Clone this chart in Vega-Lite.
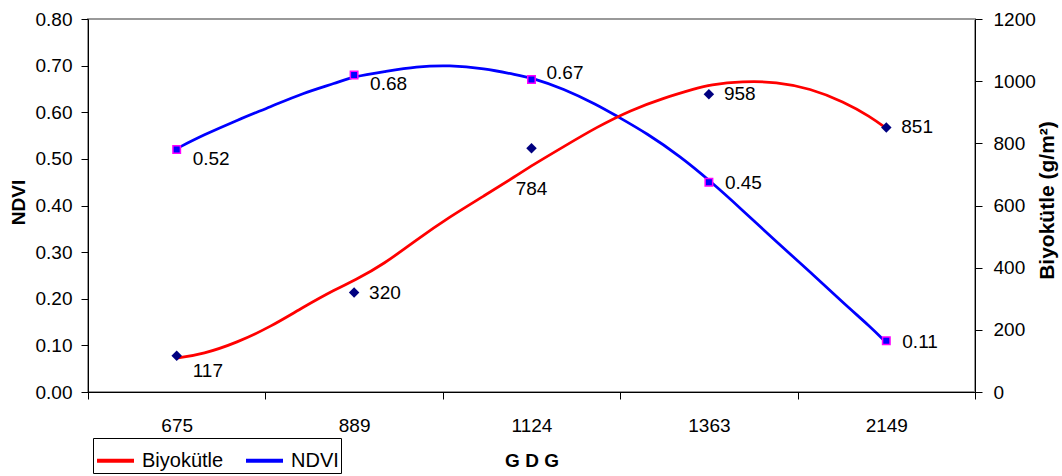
{
  "$schema": "https://vega.github.io/schema/vega-lite/v6.json",
  "width": 887,
  "height": 373,
  "autosize": {"type": "none"},
  "padding": {"left": 88, "top": 19, "right": 87, "bottom": 84},
  "background": "white",
  "config": {
    "font": "Liberation Sans",
    "view": {"stroke": "#999999", "strokeWidth": 2},
    "axis": {
      "domainColor": "#000000", "domainWidth": 1, "tickColor": "#000000", "tickSize": 7,
      "labelColor": "#000000", "titleColor": "#000000", "grid": false,
      "labelFont": "Liberation Sans", "titleFont": "Liberation Sans",
      "labelFontSize": 19, "titleFontSize": 19, "titleFontWeight": "bold"
    },
    "text": {"font": "Liberation Sans", "fontSize": 19, "color": "#000000"}
  },
  "datasets": {
    "ndviCurve": [
      {"i": 1.00, "v": 0.522}, {"i": 1.15, "v": 0.551}, {"i": 1.34, "v": 0.583}, {"i": 1.53, "v": 0.612},
      {"i": 1.71, "v": 0.641}, {"i": 1.90, "v": 0.663}, {"i": 2.00, "v": 0.677}, {"i": 2.17, "v": 0.687},
      {"i": 2.35, "v": 0.698}, {"i": 2.54, "v": 0.701}, {"i": 2.73, "v": 0.694}, {"i": 2.92, "v": 0.680},
      {"i": 3.00, "v": 0.674}, {"i": 3.18, "v": 0.651}, {"i": 3.37, "v": 0.616}, {"i": 3.48, "v": 0.592},
      {"i": 3.65, "v": 0.555}, {"i": 3.84, "v": 0.505}, {"i": 4.00, "v": 0.455}, {"i": 4.19, "v": 0.390},
      {"i": 4.38, "v": 0.322}, {"i": 4.57, "v": 0.258}, {"i": 4.76, "v": 0.190}, {"i": 4.91, "v": 0.140},
      {"i": 5.00, "v": 0.106}
    ],
    "bioCurve": [
      {"i": 1.00, "v": 109}, {"i": 1.15, "v": 122}, {"i": 1.34, "v": 159}, {"i": 1.53, "v": 210},
      {"i": 1.71, "v": 272}, {"i": 1.90, "v": 332}, {"i": 2.00, "v": 358}, {"i": 2.17, "v": 412},
      {"i": 2.35, "v": 489}, {"i": 2.54, "v": 564}, {"i": 2.73, "v": 630}, {"i": 2.92, "v": 698},
      {"i": 3.00, "v": 728}, {"i": 3.18, "v": 789}, {"i": 3.37, "v": 853}, {"i": 3.56, "v": 907},
      {"i": 3.74, "v": 945}, {"i": 3.93, "v": 977}, {"i": 4.00, "v": 988}, {"i": 4.19, "v": 1000},
      {"i": 4.38, "v": 998}, {"i": 4.57, "v": 977}, {"i": 4.76, "v": 934}, {"i": 4.91, "v": 886},
      {"i": 5.00, "v": 848}
    ],
    "ndviPts": [
      {"gdg": "675", "i": 1, "v": 0.52}, {"gdg": "889", "i": 2, "v": 0.68}, {"gdg": "1124", "i": 3, "v": 0.67},
      {"gdg": "1363", "i": 4, "v": 0.45}, {"gdg": "2149", "i": 5, "v": 0.11}
    ],
    "bioPts": [
      {"gdg": "675", "i": 1, "v": 117}, {"gdg": "889", "i": 2, "v": 320}, {"gdg": "1124", "i": 3, "v": 784},
      {"gdg": "1363", "i": 4, "v": 958}, {"gdg": "2149", "i": 5, "v": 851}
    ]
  },
  "encoding": {
    "x": {
      "field": "i", "type": "quantitative",
      "scale": {"domain": [0.5, 5.5], "nice": false, "zero": false},
      "axis": {
        "values": [0.5, 1.5, 2.5, 3.5, 4.5, 5.5],
        "labelExpr": "datum.value < 5 ? ['675','889','1124','1363','2149'][floor(datum.value)] : ''",
        "labelOffset": 88.7, "labelOverlap": false, "labelBound": false, "labelFlush": false,
        "labelPadding": 17,
        "title": "G D G", "titleX": 443.5, "titleY": 68, "titleBaseline": "middle", "titleAlign": "center"
      }
    }
  },
  "layer": [
    {
      "encoding": {
        "y": {
          "field": "v", "type": "quantitative",
          "scale": {"domain": [0, 0.8], "nice": false, "zero": true},
          "axis": {
            "orient": "left", "values": [0, 0.1, 0.2, 0.3, 0.4, 0.5, 0.6, 0.7, 0.8], "format": ".2f",
            "labelPadding": 9, "title": "NDVI", "titleAngle": 270, "titleX": -70, "titleY": 183,
            "titleBaseline": "middle", "titleAlign": "center"
          }
        }
      },
      "layer": [
        {
          "data": {"name": "ndviCurve"},
          "mark": {"type": "line", "interpolate": "basis", "strokeWidth": 2.75},
          "encoding": {
            "color": {
              "datum": "NDVI", "type": "nominal",
              "scale": {"domain": ["Biyokütle", "NDVI"], "range": ["#ff0000", "#0000ff"]},
              "legend": {
                "orient": "none", "legendX": 5, "legendY": 419, "direction": "horizontal", "title": null,
                "strokeColor": "#000000", "fillColor": "#ffffff", "padding": 2,
                "symbolType": "stroke", "symbolSize": 1369, "symbolStrokeWidth": 4,
                "labelFontSize": 20, "labelFont": "Liberation Sans", "labelColor": "#000000",
                "columnPadding": 14, "labelOffset": 6
              }
            }
          }
        },
        {
          "data": {"name": "ndviPts"},
          "mark": {"type": "point", "shape": "square", "filled": true, "fill": "#0000ff", "stroke": "#ff00ff", "strokeWidth": 1.5, "size": 56, "opacity": 1}
        },
        {
          "data": {"name": "ndviPts"},
          "transform": [{"filter": {"field": "v", "oneOf": [0.52, 0.68]}}],
          "mark": {"type": "text", "align": "left", "baseline": "middle", "dx": 16, "dy": 9},
          "encoding": {"text": {"field": "v", "type": "quantitative", "format": ".2f"}}
        },
        {
          "data": {"name": "ndviPts"},
          "transform": [{"filter": {"field": "v", "oneOf": [0.67]}}],
          "mark": {"type": "text", "align": "left", "baseline": "middle", "dx": 15, "dy": -7},
          "encoding": {"text": {"field": "v", "type": "quantitative", "format": ".2f"}}
        },
        {
          "data": {"name": "ndviPts"},
          "transform": [{"filter": {"field": "v", "oneOf": [0.45, 0.11]}}],
          "mark": {"type": "text", "align": "left", "baseline": "middle", "dx": 16, "dy": 1},
          "encoding": {"text": {"field": "v", "type": "quantitative", "format": ".2f"}}
        }
      ]
    },
    {
      "encoding": {
        "y": {
          "field": "v", "type": "quantitative",
          "scale": {"domain": [0, 1200], "nice": false, "zero": true},
          "axis": {
            "orient": "right", "values": [0, 200, 400, 600, 800, 1000, 1200], "format": "d",
            "labelPadding": 11, "title": "Biyokütle (g/m²)", "titleFontSize": 21, "titleAngle": 270, "titleX": 72, "titleY": 181,
            "titleBaseline": "middle", "titleAlign": "center"
          }
        }
      },
      "layer": [
        {
          "data": {"name": "bioCurve"},
          "mark": {"type": "line", "interpolate": "basis", "strokeWidth": 2.75},
          "encoding": {
            "color": {
              "datum": "Biyokütle", "type": "nominal",
              "scale": {"domain": ["Biyokütle", "NDVI"], "range": ["#ff0000", "#0000ff"]},
              "legend": {
                "orient": "none", "legendX": 5, "legendY": 419, "direction": "horizontal", "title": null,
                "strokeColor": "#000000", "fillColor": "#ffffff", "padding": 2,
                "symbolType": "stroke", "symbolSize": 1369, "symbolStrokeWidth": 4,
                "labelFontSize": 20, "labelFont": "Liberation Sans", "labelColor": "#000000",
                "columnPadding": 14, "labelOffset": 6
              }
            }
          }
        },
        {
          "data": {"name": "bioPts"},
          "mark": {"type": "point", "shape": "diamond", "filled": true, "color": "#000080", "size": 110, "opacity": 1}
        },
        {
          "data": {"name": "bioPts"},
          "transform": [{"filter": {"field": "v", "oneOf": [320, 958, 851]}}],
          "mark": {"type": "text", "align": "left", "baseline": "middle", "dx": 15, "dy": 0},
          "encoding": {"text": {"field": "v", "type": "quantitative", "format": "d"}}
        },
        {
          "data": {"name": "bioPts"},
          "transform": [{"filter": {"field": "v", "oneOf": [117]}}],
          "mark": {"type": "text", "align": "left", "baseline": "middle", "dx": 16, "dy": 15},
          "encoding": {"text": {"field": "v", "type": "quantitative", "format": "d"}}
        },
        {
          "data": {"name": "bioPts"},
          "transform": [{"filter": {"field": "v", "oneOf": [784]}}],
          "mark": {"type": "text", "align": "center", "baseline": "middle", "dx": 0, "dy": 41},
          "encoding": {"text": {"field": "v", "type": "quantitative", "format": "d"}}
        }
      ]
    }
  ],
  "resolve": {"scale": {"y": "independent"}}
}
